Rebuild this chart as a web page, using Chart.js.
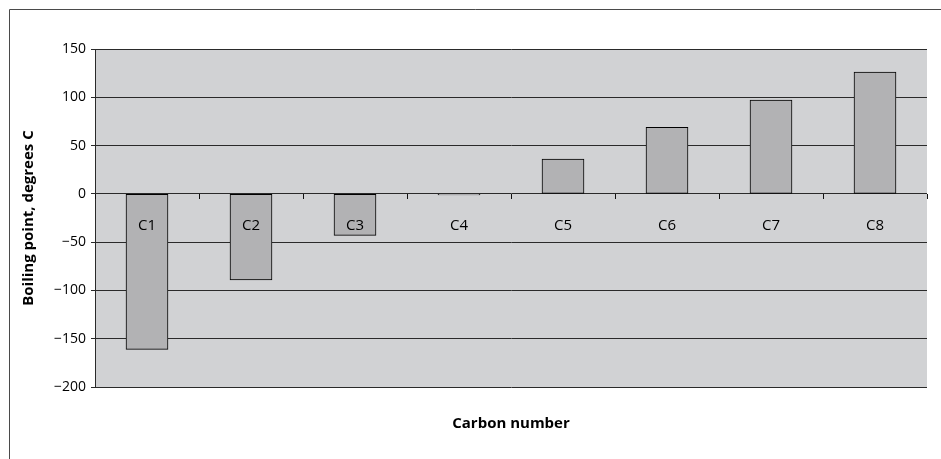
<!DOCTYPE html>
<html>
<head>
<meta charset="utf-8">
<script src="https://cdn.jsdelivr.net/npm/chart.js@4/dist/chart.umd.min.js"></script>
<style>
    html, body { margin: 0; padding: 0; background: #fff; }
    #wrap { width: 941px; height: 459px; }
</style>
</head>
<body>
<div id="wrap"><canvas id="myChart" width="941" height="459"></canvas></div>
<script>
var categories = ['C1', 'C2', 'C3', 'C4', 'C5', 'C6', 'C7', 'C8'];
var boilingPoints = [-161, -89, -43, -1, 36, 69, 97, 126];
var yTicks = [-200, -150, -100, -50, 0, 50, 100, 150];

var fontFamily = '"Open Sans", "Noto Sans", sans-serif';

// grey plot background + outer frame
var framePlugin = {
    id: 'frame',
    beforeDraw: function (chart) {
        var ctx = chart.ctx, a = chart.chartArea;
        ctx.save();
        ctx.fillStyle = '#d1d2d4';
        ctx.fillRect(a.left, a.top, a.right - a.left, a.bottom - a.top);
        ctx.strokeStyle = '#4a4a4a';
        ctx.lineWidth = 1;
        ctx.beginPath();
        ctx.moveTo(9.5, chart.height);
        ctx.lineTo(9.5, 9.5);
        ctx.lineTo(chart.width, 9.5);
        ctx.stroke();
        ctx.restore();
    }
};

var ctx = document.getElementById('myChart').getContext('2d');
var myChart = new Chart(ctx, {
    type: 'bar',
    data: {
        labels: categories,
        datasets: [{
            data: boilingPoints,
            backgroundColor: '#b2b2b4',
            borderColor: '#000',
            borderWidth: 1,
            borderSkipped: false,
            barThickness: 42
        }]
    },
    options: {
        responsive: false,
        animation: false,
        layout: {
            padding: { left: 0, top: 49, right: 14, bottom: 0 }
        },
        plugins: {
            legend: { display: false },
            tooltip: { enabled: false }
        },
        scales: {
            x: {
                position: 'bottom',
                grid: { display: false },
                border: { display: false },
                ticks: { display: false },
                title: {
                    display: true,
                    text: 'Carbon number',
                    color: '#000',
                    font: { family: fontFamily, size: 15, weight: 'bold' },
                    padding: { top: 0, bottom: 26 }
                },
                afterFit: function (scale) { scale.height = 72; }
            },
            x2: {
                type: 'category',
                labels: categories,
                position: { y: 0 },
                offset: true,
                grid: {
                    offset: true,
                    drawOnChartArea: false,
                    drawTicks: true,
                    tickLength: 5,
                    tickColor: '#111',
                    z: 1
                },
                border: { display: false },
                ticks: {
                    color: '#000',
                    padding: 18,
                    maxRotation: 0,
                    z: 1,
                    font: { family: fontFamily, size: 15 }
                }
            },
            y: {
                min: -200,
                max: 150,
                afterBuildTicks: function (scale) {
                    scale.ticks = yTicks.map(function (v) { return { value: v }; });
                },
                grid: {
                    color: '#2a2a2a',
                    lineWidth: 1,
                    tickLength: 4,
                    tickColor: '#2a2a2a'
                },
                border: { display: true, color: '#2a2a2a' },
                ticks: {
                    color: '#000',
                    padding: 5,
                    font: { family: fontFamily, size: 14 },
                    callback: function (v) { return String(v).replace('-', '\u2212'); }
                },
                title: {
                    display: true,
                    text: 'Boiling point, degrees C',
                    color: '#000',
                    font: { family: fontFamily, size: 15, weight: 'bold' },
                    padding: { top: 20, bottom: 0 }
                },
                afterFit: function (scale) { scale.width = 95; }
            }
        }
    },
    plugins: [framePlugin]
});
</script>
</body>
</html>
